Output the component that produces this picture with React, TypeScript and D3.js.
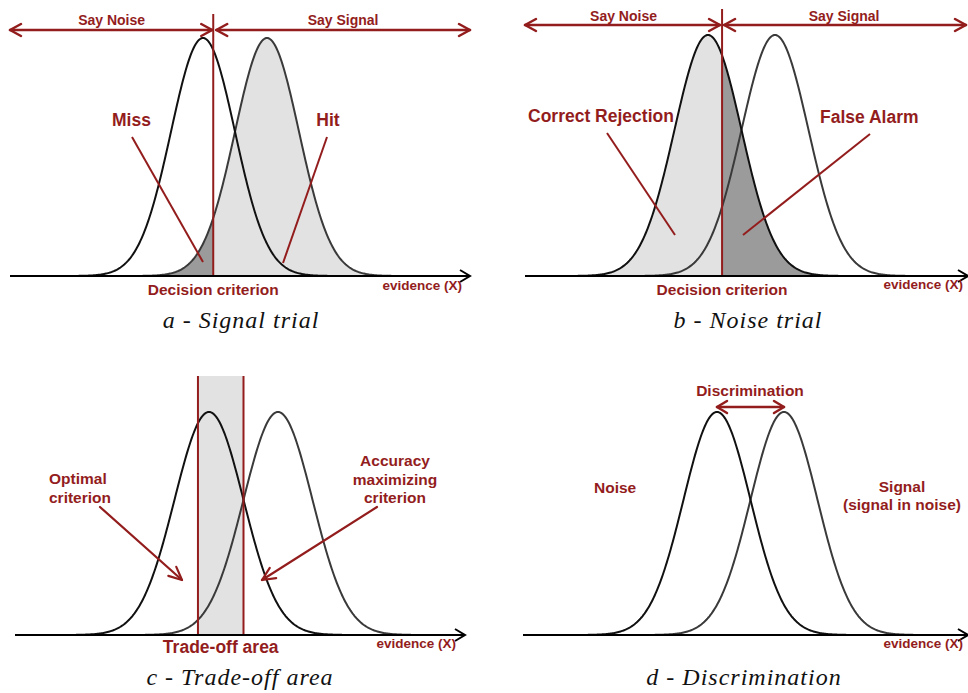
import * as d3 from "d3";

// Two equal-variance distributions (d' = 2)
const distNames = ["Noise", "Signal"];
const distMeans = [0, 2];
const distSds = [1, 1];
// decision criterion used in panel a (signal trial) and b (noise trial)
const criterionValues = [0.32, 0.42];
// trade-off area: optimal criterion .. accuracy maximizing criterion
const tradeOffBounds = [-0.32, 1.0];
const captions = ["a - Signal trial", "b - Noise trial", "c - Trade-off area", "d - Discrimination"];

const RED = "#931d1d";
const LIGHT = "#e2e2e2";
const DARK = "#9b9b9b";
const SANS = "'Liberation Sans', Arial, sans-serif";
const SERIF = "'Liberation Serif', 'Times New Roman', serif";

const pdf = (x: number, m: number, s: number) =>
  Math.exp(-((x - m) ** 2) / (2 * s * s)) / (s * Math.sqrt(2 * Math.PI));
const PEAK = pdf(0, 0, 1);

type Pt = [number, number];

function makeScales(x0: number, x2: number, base: number, top: number) {
  const x = d3.scaleLinear().domain([distMeans[0], distMeans[1]]).range([x0, x2]);
  const y = d3.scaleLinear().domain([0, PEAK]).range([base, top]);
  return { x, y };
}

function samples(i: number, lo?: number, hi?: number): Pt[] {
  const m = distMeans[i];
  const s = distSds[i];
  const a = lo ?? m - 4.5 * s;
  const b = hi ?? m + 4.5 * s;
  return d3.range(a, b, 0.03).concat([b]).map((v) => [v, pdf(v, m, s)] as Pt);
}

function head(tx: number, ty: number, angle: number, len = 11, half = 6) {
  const bx = -Math.cos(angle);
  const by = -Math.sin(angle);
  const px = -by;
  const py = bx;
  const p1 = [tx + bx * len + px * half, ty + by * len + py * half];
  const p2 = [tx + bx * len - px * half, ty + by * len - py * half];
  return `M${p1[0]},${p1[1]}L${tx},${ty}L${p2[0]},${p2[1]}`;
}

function Arrow({ x1, y1, x2, y2, both = false, w = 2.5, len = 11, half = 6 }: any) {
  const ang = Math.atan2(y2 - y1, x2 - x1);
  return (
    <g stroke={RED} strokeWidth={w} fill="none" strokeLinecap="round" strokeLinejoin="round">
      <line x1={x1} y1={y1} x2={x2} y2={y2} />
      <path d={head(x2, y2, ang, len, half)} />
      {both && <path d={head(x1, y1, ang + Math.PI, len, half)} />}
    </g>
  );
}

function Curves({ s }: any) {
  const line = d3.line<Pt>().x((d) => s.x(d[0])).y((d) => s.y(d[1]));
  return (
    <g fill="none" strokeWidth={2}>
      <path d={line(samples(1)) ?? ""} stroke="#3a3a3a" />
      <path d={line(samples(0)) ?? ""} stroke="#111" />
    </g>
  );
}

function Fill({ s, i, lo, hi, color }: any) {
  const area = d3
    .area<Pt>()
    .x((d) => s.x(d[0]))
    .y0(s.y(0))
    .y1((d) => s.y(d[1]));
  return <path d={area(samples(i, lo, hi)) ?? ""} fill={color} />;
}

function Axis({ x1, x2, y, ex, ey }: any) {
  return (
    <g>
      <line x1={x1} y1={y} x2={x2} y2={y} stroke="#000" strokeWidth={2.2} />
      <path d={head(x2, y, 0, 10, 6)} stroke="#000" strokeWidth={2} fill="none" />
      <text x={ex} y={ey} textAnchor="end" fontFamily={SANS} fontWeight="bold" fontSize={13.5} fill={RED}>
        evidence (X)
      </text>
    </g>
  );
}

function Label({ x, y, size = 15.5, anchor = "middle", children }: any) {
  return (
    <text x={x} y={y} textAnchor={anchor} fontFamily={SANS} fontWeight="bold" fontSize={size} fill={RED}>
      {children}
    </text>
  );
}

function Caption({ x, y, children }: any) {
  return (
    <text x={x} y={y} textAnchor="middle" fontFamily={SERIF} fontStyle="italic" fontSize={24} letterSpacing={1} fill="#111">
      {children}
    </text>
  );
}

function Lead({ x1, y1, x2, y2 }: any) {
  return <line x1={x1} y1={y1} x2={x2} y2={y2} stroke={RED} strokeWidth={2} />;
}

export default function App() {
  const A = makeScales(203, 267, 276, 38);
  const B = makeScales(708, 775, 276, 35);
  const C = makeScales(209, 278, 635, 412);
  const D = makeScales(717, 784, 635, 412);
  const ca = A.x(criterionValues[0]);
  const cb = B.x(criterionValues[1]);
  const t0 = C.x(tradeOffBounds[0]);
  const t1 = C.x(tradeOffBounds[1]);

  return (
    <svg width={968} height={693} style={{ position: "absolute", left: 0, top: 0, background: "#fff" }}>
      {/* a - signal trial */}
      <g>
        <Fill s={A} i={1} hi={criterionValues[0]} color={DARK} />
        <Fill s={A} i={1} lo={criterionValues[0]} color={LIGHT} />
        <Curves s={A} />
        <line x1={ca} y1={14} x2={ca} y2={276} stroke={RED} strokeWidth={2} />
        <Arrow x1={10} y1={30} x2={ca - 1} y2={30} both />
        <Arrow x1={ca + 3} y1={30} x2={470} y2={30} both />
        <Label x={(10 + ca) / 2} y={25} size={14}>Say Noise</Label>
        <Label x={(ca + 473) / 2} y={25} size={14}>Say Signal</Label>
        <Axis x1={10} x2={470} y={276} ex={462} ey={290} />
        <Label x={112} y={126} size={17.5} anchor="start">Miss</Label>
        <Label x={328} y={126} size={17.5} anchor="middle">Hit</Label>
        <Lead x1={132} y1={137} x2={203} y2={262} />
        <Lead x1={327} y1={137} x2={283} y2={263} />
        <Label x={ca} y={295} size={15.5}>Decision criterion</Label>
        <Caption x={241} y={328}>{captions[0]}</Caption>
      </g>

      {/* b - noise trial */}
      <g>
        <Fill s={B} i={0} hi={criterionValues[1]} color={LIGHT} />
        <Fill s={B} i={0} lo={criterionValues[1]} color={DARK} />
        <Curves s={B} />
        <line x1={cb} y1={9} x2={cb} y2={276} stroke={RED} strokeWidth={2} />
        <Arrow x1={525} y1={25} x2={cb - 2} y2={25} both />
        <Arrow x1={cb + 2} y1={25} x2={966} y2={25} both />
        <Label x={(525 + cb) / 2} y={21} size={14}>Say Noise</Label>
        <Label x={(cb + 966) / 2} y={21} size={14}>Say Signal</Label>
        <Axis x1={525} x2={968} y={276} ex={963} ey={289} />
        <Label x={528} y={122} size={17.5} anchor="start">Correct Rejection</Label>
        <Label x={820} y={123} size={17.5} anchor="start">False Alarm</Label>
        <Lead x1={607} y1={133} x2={675} y2={235} />
        <Lead x1={870} y1={134} x2={743} y2={235} />
        <Label x={cb} y={295} size={15.5}>Decision criterion</Label>
        <Caption x={748} y={328}>{captions[1]}</Caption>
      </g>

      {/* c - trade-off area */}
      <g>
        <rect x={t0} y={376} width={t1 - t0} height={635 - 376} fill={LIGHT} />
        <Curves s={C} />
        <line x1={t0} y1={376} x2={t0} y2={635} stroke={RED} strokeWidth={2} />
        <line x1={t1} y1={376} x2={t1} y2={635} stroke={RED} strokeWidth={2} />
        <Axis x1={15} x2={465} y={635} ex={456} ey={648} />
        <Label x={49} y={484} anchor="start">Optimal</Label>
        <Label x={49} y={503} anchor="start">criterion</Label>
        <Label x={395} y={466}>Accuracy</Label>
        <Label x={395} y={485}>maximizing</Label>
        <Label x={395} y={503}>criterion</Label>
        <Arrow x1={100} y1={507} x2={182} y2={580} w={2.2} len={13} half={6} />
        <Arrow x1={377} y1={507} x2={262} y2={580} w={2.2} len={13} half={6} />
        <Label x={(t0 + t1) / 2} y={653} size={17.5}>Trade-off area</Label>
        <Caption x={240} y={685}>{captions[2]}</Caption>
      </g>

      {/* d - discrimination */}
      <g>
        <Curves s={D} />
        <Axis x1={523} x2={968} y={635} ex={963} ey={648} />
        <Label x={750} y={396}>Discrimination</Label>
        <Arrow x1={D.x(distMeans[0])} y1={407} x2={D.x(distMeans[1])} y2={407} both w={2.5} len={10} half={6} />
        <Label x={594} y={493} anchor="start">{distNames[0]}</Label>
        <Label x={902} y={492}>{distNames[1]}</Label>
        <Label x={902} y={510}>(signal in noise)</Label>
        <Caption x={744} y={685}>{captions[3]}</Caption>
      </g>
    </svg>
  );
}
